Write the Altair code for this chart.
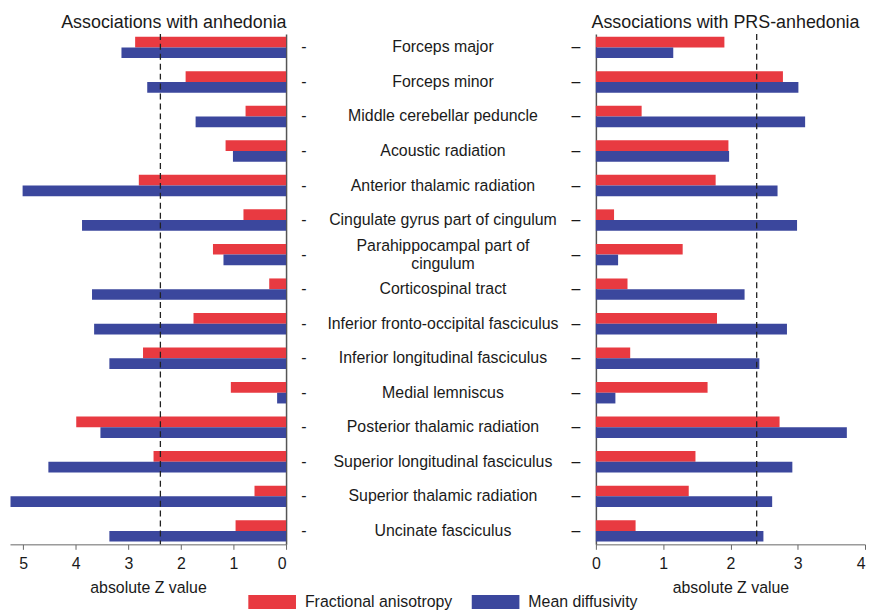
import altair as alt
import pandas as pd

tracts = [
    "Forceps major", "Forceps minor", "Middle cerebellar peduncle",
    "Acoustic radiation", "Anterior thalamic radiation",
    "Cingulate gyrus part of cingulum", "Parahippocampal part of cingulum",
    "Corticospinal tract", "Inferior fronto-occipital fasciculus",
    "Inferior longitudinal fasciculus", "Medial lemniscus",
    "Posterior thalamic radiation", "Superior longitudinal fasciculus",
    "Superior thalamic radiation", "Uncinate fasciculus",
]
display_labels = [
    "Forceps major", "Forceps minor", "Middle cerebellar peduncle",
    "Acoustic radiation", "Anterior thalamic radiation",
    "Cingulate gyrus part of cingulum", "Parahippocampal part of\ncingulum",
    "Corticospinal tract", "Inferior fronto-occipital fasciculus",
    "Inferior longitudinal fasciculus", "Medial lemniscus",
    "Posterior thalamic radiation", "Superior longitudinal fasciculus",
    "Superior thalamic radiation", "Uncinate fasciculus",
]
measures = ["Fractional anisotropy", "Mean diffusivity"]
colors = ["#E83A41", "#3B479D"]

fa_anh = [2.87, 1.91, 0.77, 1.15, 2.80, 0.81, 1.39, 0.32, 1.76, 2.72, 1.05, 3.99, 2.52, 0.60, 0.96]
md_anh = [3.13, 2.64, 1.72, 1.01, 5.01, 3.88, 1.19, 3.69, 3.65, 3.36, 0.17, 3.53, 4.52, 5.24, 3.36]
fa_prs = [1.91, 2.78, 0.68, 1.97, 1.78, 0.27, 1.29, 0.47, 1.80, 0.51, 1.66, 2.73, 1.48, 1.38, 0.59]
md_prs = [1.15, 3.01, 3.11, 1.98, 2.70, 2.99, 0.33, 2.21, 2.84, 2.43, 0.29, 3.73, 2.92, 2.62, 2.49]
threshold = [2.39]

rows = []
for i, t in enumerate(tracts):
    rows.append({"tract": t, "measure": measures[0], "anh": fa_anh[i], "prs": fa_prs[i]})
    rows.append({"tract": t, "measure": measures[1], "anh": md_anh[i], "prs": md_prs[i]})
df = pd.DataFrame(rows)
lab = pd.DataFrame({"tract": tracts, "label": display_labels,
                    "multi": ["\n" in s for s in display_labels]})
thr = pd.DataFrame({"z": threshold})

FONT = "Liberation Sans"
TXT = "#1a1a1a"
H = 514


def yscale():
    return alt.Scale(type="band", domain=tracts, paddingInner=0.38, paddingOuter=0.08)


color = alt.Color("measure:N", scale=alt.Scale(domain=measures, range=colors),
                  legend=alt.Legend(title=None))
yoff = alt.YOffset("measure:N", sort=measures)

left_bars = alt.Chart(df).mark_bar().encode(
    x=alt.X("anh:Q", scale=alt.Scale(domain=[0, 5.25], reverse=True, nice=False),
            axis=alt.Axis(values=[0, 1, 2, 3, 4, 5], format="d", title="absolute Z value")),
    y=alt.Y("tract:N", sort=tracts, scale=yscale(),
            axis=alt.Axis(orient="right", labels=False, ticks=False, title=None,
                          domainColor="#555", domainWidth=1.5)),
    yOffset=yoff,
    color=color,
)
left_rule = alt.Chart(thr).mark_rule(strokeDash=[6, 4], color="#222", strokeWidth=1.3).encode(x="z:Q")
left = alt.layer(left_bars, left_rule).properties(
    width=278, height=H,
    title=alt.Title("Associations with anhedonia", anchor="end", fontSize=18,
                    fontWeight="normal", font=FONT, color=TXT, offset=1),
)

right_bars = alt.Chart(df).mark_bar().encode(
    x=alt.X("prs:Q", scale=alt.Scale(domain=[0, 4], nice=False),
            axis=alt.Axis(values=[0, 1, 2, 3, 4], format="d", title="absolute Z value",
                          labelAlign=alt.expr("datum.value == 4 ? 'right' : 'center'"))),
    y=alt.Y("tract:N", sort=tracts, scale=yscale(),
            axis=alt.Axis(orient="left", labels=False, ticks=False, title=None,
                          domainColor="#555", domainWidth=1.5)),
    yOffset=yoff,
    color=color,
)
right_rule = alt.Chart(thr).mark_rule(strokeDash=[6, 4], color="#222", strokeWidth=1.3).encode(x="z:Q")
right = alt.layer(right_bars, right_rule).properties(
    width=271, height=H,
    title=alt.Title("Associations with PRS-anhedonia", anchor="start", fontSize=18,
                    fontWeight="normal", font=FONT, color=TXT, offset=1),
)

ymid = alt.Y("tract:N", sort=tracts, scale=yscale(), axis=None)
mid_single = alt.Chart(lab).transform_filter("!datum.multi").mark_text(
    fontSize=16, font=FONT, color=TXT, align="center", baseline="middle").encode(
    y=ymid, x=alt.value(157), text="label:N")
mid_multi = alt.Chart(lab).transform_filter("datum.multi").mark_text(
    fontSize=16, font=FONT, color=TXT, lineBreak="\n", align="center",
    baseline="middle", lineHeight=19, dy=-9).encode(
    y=ymid, x=alt.value(157), text="label:N")
dash_l = alt.Chart(lab).mark_text(text="-", fontSize=16, font=FONT, color=TXT).encode(
    y=ymid, x=alt.value(17))
dash_r = alt.Chart(lab).mark_text(text="\u2013", fontSize=16, font=FONT, color=TXT).encode(
    y=ymid, x=alt.value(291))
mid = alt.layer(mid_single, mid_multi, dash_l, dash_r).properties(width=306, height=H)

chart = alt.hconcat(left, mid, right, spacing=0).resolve_scale(
    x="independent", y="independent", color="shared"
).properties(
    padding={"left": 2, "top": 4, "right": 0, "bottom": 0}
).configure_view(stroke=None).configure_axis(
    labelFont=FONT, titleFont=FONT, labelFontSize=16, titleFontSize=16,
    titleFontWeight="normal", labelColor=TXT, titleColor=TXT, grid=False,
    domainColor="#666", tickColor="#666", tickSize=5, labelPadding=6, titlePadding=8,
).configure_legend(
    orient="none", legendX=256, legendY=564, direction="horizontal",
    symbolType="M-3,-0.875L3,-0.875L3,0.875L-3,0.875Z", symbolSize=256,
    symbolStrokeWidth=0, symbolOpacity=1, labelFont=FONT, labelFontSize=16,
    labelColor=TXT, labelOffset=25, columnPadding=19, padding=0, labelLimit=300,
)

chart.save("out.html", embed_options={"renderer": "svg", "actions": False})
